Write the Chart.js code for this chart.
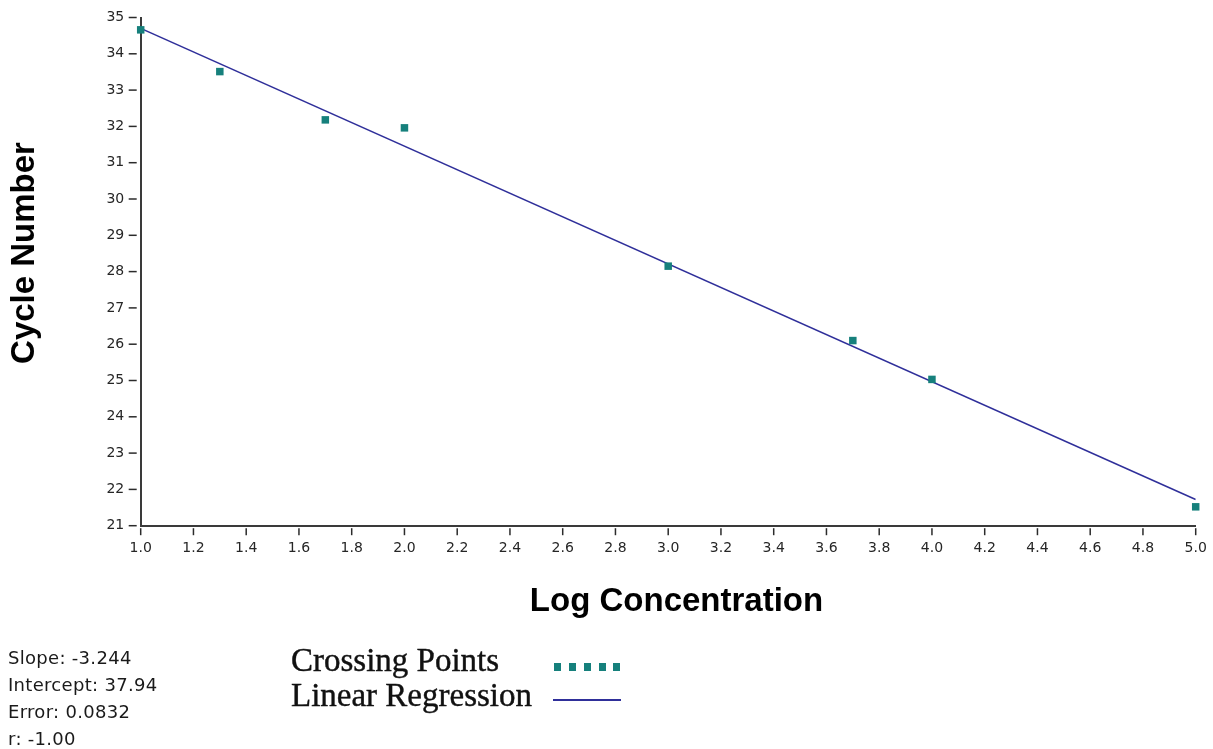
<!DOCTYPE html>
<html>
<head>
<meta charset="utf-8">
<title>Standard Curve</title>
<script src="https://cdn.jsdelivr.net/npm/chart.js@4.4.1/dist/chart.umd.min.js"></script>
<style>
  html, body { margin: 0; padding: 0; background: #ffffff; }
  #wrap { position: relative; width: 1213px; height: 749px; overflow: hidden; }
  #chart { position: absolute; left: 0; top: 0; }
  .stats {
    position: absolute; left: 8px; top: 644px;
    font-family: "DejaVu Sans", Verdana, sans-serif; font-size: 18px;
    letter-spacing: 0.3px; line-height: 27px; color: #1a1a1a; white-space: nowrap;
  }
  .legend {
    position: absolute; left: 291px; top: 643px;
    font-family: "Liberation Serif", "Times New Roman", serif; font-size: 33px;
    line-height: 35px; color: #111111; white-space: nowrap;
    -webkit-text-stroke: 0.4px #111111;
  }
  .sw-points { position: absolute; left: 554px; top: 663px; width: 67px; height: 8px; }
  .sw-points span { position: absolute; top: 0; width: 7px; height: 8px; background: #16807c; }
  .sw-line { position: absolute; left: 553px; top: 699px; width: 68px; height: 2px; background: #2f2f9a; }
</style>
</head>
<body>
<div id="wrap">
  <canvas id="chart" width="1213" height="749"></canvas>
  <div class="stats">
    <div>Slope: -3.244</div>
    <div>Intercept: 37.94</div>
    <div>Error: 0.0832</div>
    <div>r: -1.00</div>
  </div>
  <div class="legend">
    <div>Crossing Points</div>
    <div>Linear Regression</div>
  </div>
  <div class="sw-points">
    <span style="left:0px"></span><span style="left:15px"></span><span style="left:30px"></span><span style="left:45px"></span><span style="left:59px"></span>
  </div>
  <div class="sw-line"></div>
</div>
<script>
// Standard dilution series: log concentration vs. crossing cycle
const logConcentration = [1.0, 1.3, 1.7, 2.0, 3.0, 3.7, 4.0, 5.0];
const crossingCycle = [34.66, 33.51, 32.18, 31.96, 28.15, 26.10, 25.03, 21.52];

// Regression fit: slope -3.244, intercept 37.94, evaluated at the axis ends
const fitX = [1.0, 5.0];
const fitY = [34.70, 21.72];

// Axis ranges and steps
const xRange = [1.0, 5.0];
const xStep = 0.2;
const yRange = [21, 35];
const yStep = 1;

const xTitle = 'Log Concentration';
const yTitle = 'Cycle Number';

const pointData = logConcentration.map((v, i) => ({ x: v, y: crossingCycle[i] }));
const fitData = fitX.map((v, i) => ({ x: v, y: fitY[i] }));

// Short tick dashes set slightly apart from the axis lines, plus the bold axis titles
const axisDecor = {
  id: 'axisDecor',
  afterDraw(chart) {
    const { ctx, chartArea: a, scales: { x, y } } = chart;
    ctx.save();
    ctx.strokeStyle = '#2b2b2b';
    ctx.lineWidth = 1.5;
    y.ticks.forEach(t => {
      const py = y.getPixelForValue(t.value);
      ctx.beginPath();
      ctx.moveTo(a.left - 12, py);
      ctx.lineTo(a.left - 4, py);
      ctx.stroke();
    });
    x.ticks.forEach(t => {
      const px = x.getPixelForValue(t.value);
      ctx.beginPath();
      ctx.moveTo(px, a.bottom + 2.5);
      ctx.lineTo(px, a.bottom + 9.5);
      ctx.stroke();
    });

    ctx.fillStyle = '#000000';
    ctx.font = 'bold 33px "Liberation Sans", Arial, sans-serif';
    ctx.textAlign = 'center';
    ctx.textBaseline = 'alphabetic';
    ctx.fillText(xTitle, 676.5, 611);

    ctx.translate(33.5, 253);
    ctx.rotate(-Math.PI / 2);
    ctx.fillText(yTitle, 0, 0);
    ctx.restore();
  }
};

Chart.defaults.font.family = '"DejaVu Sans", Verdana, sans-serif';
Chart.defaults.color = '#262626';

new Chart(document.getElementById('chart'), {
  type: 'scatter',
  data: {
    datasets: [
      {
        label: 'Crossing Points',
        data: pointData,
        showLine: false,
        pointStyle: 'rect',
        pointRadius: 5.3,
        pointBorderWidth: 0,
        pointBackgroundColor: '#16807c',
        pointBorderColor: '#16807c',
        clip: false
      },
      {
        label: 'Linear Regression',
        data: fitData,
        showLine: true,
        borderColor: '#2f2f9a',
        borderWidth: 1.6,
        pointRadius: 0,
        fill: false
      }
    ]
  },
  options: {
    responsive: false,
    animation: false,
    events: [],
    layout: { padding: { top: 17.5, right: 17.3, left: 0, bottom: 0 } },
    plugins: {
      legend: { display: false },
      tooltip: { enabled: false },
      title: { display: false }
    },
    scales: {
      x: {
        type: 'linear',
        position: 'bottom',
        min: xRange[0],
        max: xRange[1],
        afterFit(scale) { scale.height = 223.3; },
        ticks: {
          stepSize: xStep,
          padding: 5.9,
          font: { size: 14 },
          color: '#262626',
          maxRotation: 0,
          autoSkip: false,
          callback: v => Number(v).toFixed(1)
        },
        grid: { display: true, drawOnChartArea: false, drawTicks: true, tickLength: 8, tickColor: 'rgba(0,0,0,0)' },
        border: { display: true, color: '#3a3a3a', width: 2 }
      },
      y: {
        type: 'linear',
        position: 'left',
        min: yRange[0],
        max: yRange[1],
        afterFit(scale) { scale.width = 140.7; },
        ticks: {
          stepSize: yStep,
          padding: 8.5,
          font: { size: 14 },
          color: '#262626',
          autoSkip: false
        },
        grid: { display: true, drawOnChartArea: false, drawTicks: true, tickLength: 8, tickColor: 'rgba(0,0,0,0)' },
        border: { display: true, color: '#3a3a3a', width: 2 }
      }
    }
  },
  plugins: [axisDecor]
});
</script>
</body>
</html>
